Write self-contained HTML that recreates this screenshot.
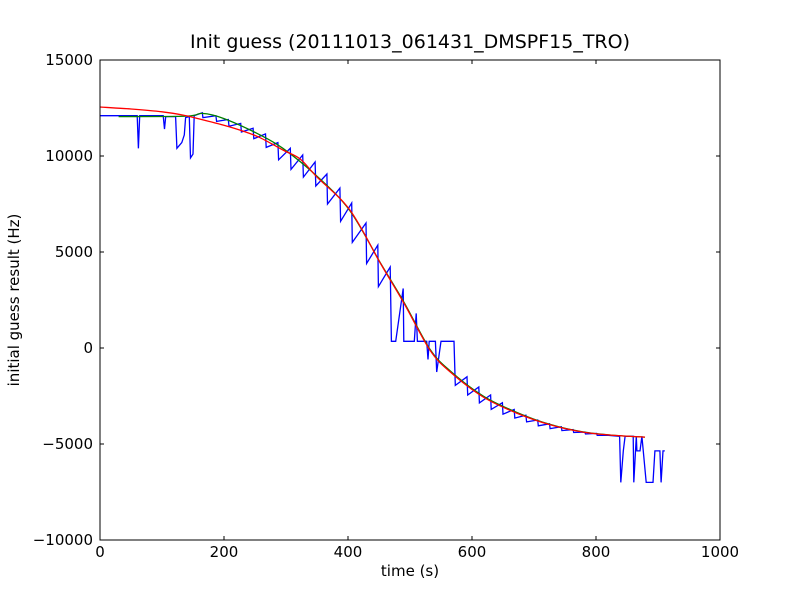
<!DOCTYPE html>
<html><head><meta charset="utf-8"><style>
body{margin:0;background:#fff;}
svg text{font-family:"DejaVu Sans","Liberation Sans",sans-serif;}
</style></head><body>
<svg id="chart" width="800" height="600" xmlns="http://www.w3.org/2000/svg">
<rect x="0" y="0" width="800" height="600" fill="#fff"/>
<g id="marks"></g>
<rect x="100" y="60" width="620" height="480" fill="none" stroke="#000" stroke-width="1"/>
<g id="ticks"></g>
<text x="410" y="48" font-size="19" text-anchor="middle">Init guess (20111013_061431_DMSPF15_TRO)</text>
<text x="410" y="576" font-size="15" text-anchor="middle">time (s)</text>
<text x="0" y="0" font-size="15" text-anchor="middle" transform="translate(19,300) rotate(-90)">initial guess result (Hz)</text>
</svg>
<script>
const xTicks=[0,200,400,600,800,1000];
const yTicks=[-10000,-5000,0,5000,10000,15000];
const yTickLabels=["\u221210000","\u22125000","0","5000","10000","15000"];
const redT=[0,50,100,134,170,215,255,295,323,350,403,452,490,532,565,618,672,726,779,830,879];
const redV=[12550,12450,12300,12130,11850,11460,11000,10310,9840,8900,7190,4430,2350,-100,-1250,-2550,-3390,-4000,-4380,-4550,-4640];
const greenT=[30,140,165,200,255,295,350,403,452,490,532,565,618,672,726,779,830,879];
const greenV=[12050,12080,12220,11950,11150,10400,8950,7150,4450,2400,-50,-1200,-2500,-3350,-3980,-4370,-4550,-4640];
const blueT=[0,60,62,64,102,104,106,122,124,132,136,138,144,146,150,152,165,166,187,188,207,208,227,228,247,248,267,268,287,288,307,308,327,328,347,348,366,367,387,388,406,407,429,430,448,449,468,470,477,489,490,507,510,512,527,529,531,541,543,550,571,573,592,593,611,612,630,631,649,650,668,669,687,688,706,707,725,726,744,745,763,764,782,783,801,802,820,838,840,844,847,860,861,865,866,871,874,881,892,895,903,905,908,911];
const blueV=[12100,12100,10400,12100,12100,11400,12050,12050,10400,10700,11100,12000,12050,9900,10100,12100,12250,12000,12100,11800,11900,11550,11700,11250,11450,10900,11150,10450,10700,9800,10400,9300,10050,8900,9690,8440,9060,7500,8330,6600,7550,5500,6510,4400,5360,3200,4220,350,350,3100,350,350,1800,350,350,-600,350,350,-1250,350,350,-1950,-1500,-2450,-2030,-2860,-2450,-3200,-2850,-3450,-3200,-3650,-3500,-3850,-3750,-4050,-3950,-4200,-4100,-4300,-4250,-4400,-4380,-4480,-4450,-4550,-4550,-4600,-7000,-5360,-4600,-4600,-7000,-4600,-5360,-5360,-4600,-7000,-7000,-5360,-5360,-7000,-5360,-5360];
const X=t=>100+t*0.62;
const Y=v=>348-v*0.0192;
const NS="http://www.w3.org/2000/svg";
const marks=document.getElementById('marks');
function line(T,V,color,name){
  const p=document.createElementNS(NS,'polyline');
  p.setAttribute('points',T.map((t,i)=>X(t).toFixed(1)+','+Y(V[i]).toFixed(1)).join(' '));
  p.setAttribute('fill','none');p.setAttribute('stroke',color);p.setAttribute('stroke-width','1.3');
  
  
  marks.appendChild(p);
}
function smooth(T,V,color,name){
  const P=T.map((t,i)=>[X(t),Y(V[i])]);
  let d='M'+P[0][0].toFixed(1)+','+P[0][1].toFixed(1);
  for(let i=0;i<P.length-1;i++){
    const p0=P[Math.max(i-1,0)],p1=P[i],p2=P[i+1],p3=P[Math.min(i+2,P.length-1)];
    const c1=[p1[0]+(p2[0]-p0[0])/6,p1[1]+(p2[1]-p0[1])/6];
    const c2=[p2[0]-(p3[0]-p1[0])/6,p2[1]-(p3[1]-p1[1])/6];
    d+=' C'+c1.map(v=>v.toFixed(1)).join(',')+' '+c2.map(v=>v.toFixed(1)).join(',')+' '+p2[0].toFixed(1)+','+p2[1].toFixed(1);
  }
  const p=document.createElementNS(NS,'path');
  p.setAttribute('d',d);
  p.setAttribute('fill','none');p.setAttribute('stroke',color);p.setAttribute('stroke-width','1.3');
  
  
  marks.appendChild(p);
}
line(blueT,blueV,'#0000ff','blue-series');
smooth(greenT,greenV,'#008000','green-series');
smooth(redT,redV,'#ff0000','red-fit-series');
const tk=document.getElementById('ticks');
function add(tag,attrs,txt){const e=document.createElementNS(NS,tag);for(const k in attrs)e.setAttribute(k,attrs[k]);if(txt!==undefined)e.textContent=txt;tk.appendChild(e);return e;}
xTicks.forEach(t=>{
  const x=X(t);
  add('line',{x1:x,x2:x,y1:540,y2:536,stroke:'#000'});
  add('line',{x1:x,x2:x,y1:60,y2:64,stroke:'#000'});
  const e=add('text',{x:x,y:557,'font-size':15,'text-anchor':'middle'},String(t));
  
  
});
yTicks.forEach((v,i)=>{
  const y=Y(v);
  add('line',{x1:100,x2:104,y1:y,y2:y,stroke:'#000'});
  add('line',{x1:720,x2:716,y1:y,y2:y,stroke:'#000'});
  const e=add('text',{x:93,y:y+5,'font-size':15,'text-anchor':'end'},yTickLabels[i]);
  
  
});
</script>
</body></html>
